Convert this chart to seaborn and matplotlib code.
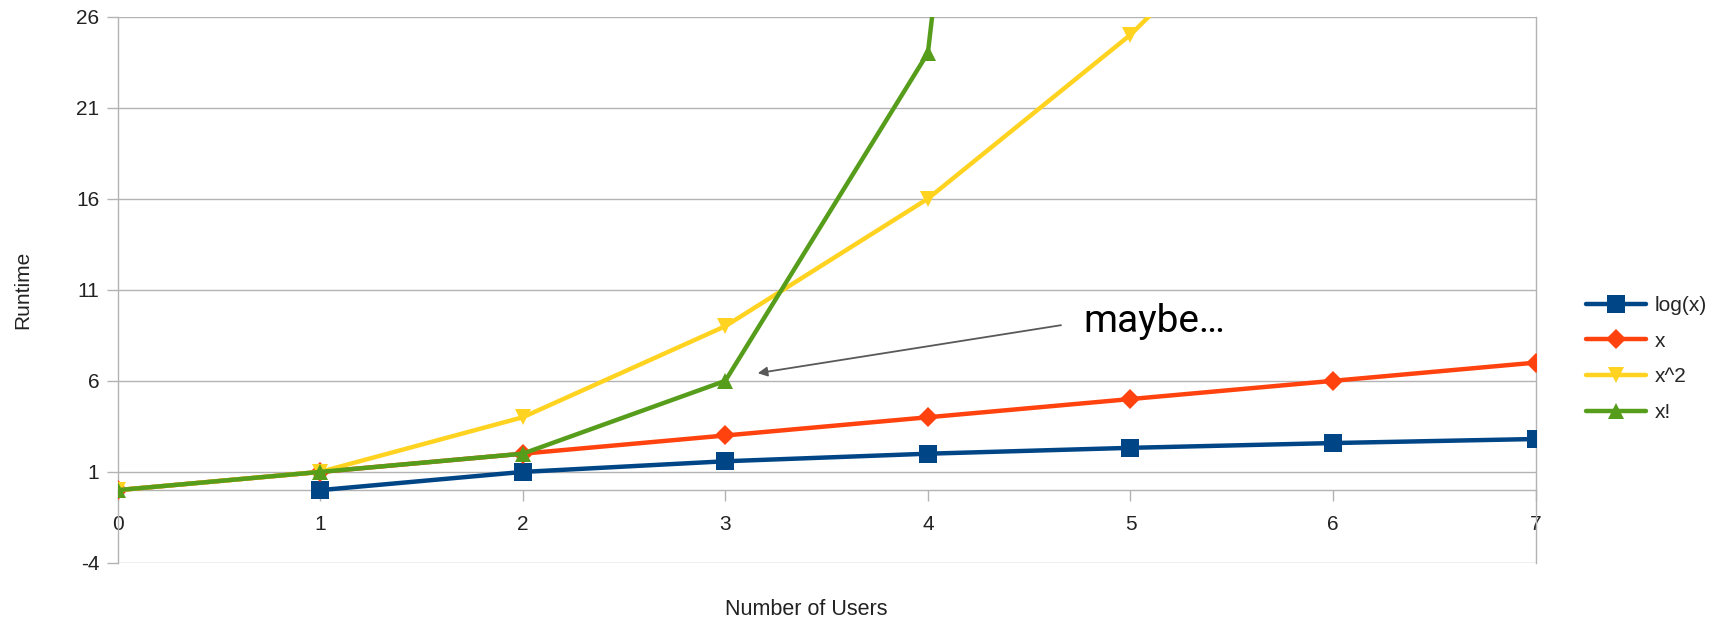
import numpy as np
import pandas as pd
import matplotlib
matplotlib.use("Agg")
import matplotlib.pyplot as plt
import seaborn as sns

# Runtime of several growth curves versus number of users
users = [0, 1, 2, 3, 4, 5, 6, 7]
log_x = [None, 0.0, 1.0, 1.585, 2.0, 2.322, 2.585, 2.807]
linear_x = [0, 1, 2, 3, 4, 5, 6, 7]
square_x = [0, 1, 4, 9, 16, 25, 36, 49]
factorial_x = [0, 1, 2, 6, 24, 120, 720, 5040]

series_names = ["log(x)", "x", "x^2", "x!"]
series_values = [log_x, linear_x, square_x, factorial_x]
colors = ["#004586", "#ff420e", "#ffd320", "#579d1c"]
marker_shapes = ["s", "D", "v", "^"]
marker_sizes = [13, 10, 12, 12]

y_ticks = [-4, 1, 6, 11, 16, 21, 26]

rows = []
for name, vals in zip(series_names, series_values):
    for u, v in zip(users, vals):
        if v is not None:
            rows.append({"Number of Users": u, "Runtime": v, "series": name})
df = pd.DataFrame(rows)

sns.set_theme(style="white")
plt.rcParams["font.family"] = ["Liberation Sans", "DejaVu Sans"]
plt.rcParams["axes.unicode_minus"] = False

fig = plt.figure(figsize=(17.21, 6.21), dpi=100)
ax = fig.add_axes([0.0683, 0.0934, 0.8240, 0.8800])

grid_color = "#b3b3b3"
for yt in y_ticks:
    ax.axhline(yt, color=grid_color, lw=1.0, zorder=0)

for name, col, mk, ms in zip(series_names, colors, marker_shapes, marker_sizes):
    sub = df[df["series"] == name]
    sns.lineplot(data=sub, x="Number of Users", y="Runtime", ax=ax,
                 color=col, marker=mk, markersize=ms, markeredgewidth=0,
                 linewidth=3.2, label=name, zorder=3, sort=False)

ax.set_xlim(0, 7)
ax.set_ylim(-4, 26)
ax.set_yticks(y_ticks)
ax.set_xticks(users)

# x axis crosses at zero, frame in light gray
ax.spines["bottom"].set_position(("data", 0))
for side in ["left", "right", "top", "bottom"]:
    ax.spines[side].set_color(grid_color)
    ax.spines[side].set_linewidth(1.0)
ax.spines["top"].set_visible(False)

text_color = "#222222"
ax.tick_params(axis="x", direction="out", length=8, width=1.0, color=grid_color,
               labelsize=15, labelcolor=text_color, pad=10, bottom=True)
ax.tick_params(axis="y", direction="out", length=8, width=1.0, color=grid_color,
               labelsize=15, labelcolor=text_color, pad=5, left=True)

ax.set_xlabel("Number of Users", fontsize=15.5, color=text_color)
ax.set_ylabel("Runtime", fontsize=15, color=text_color)
ax.xaxis.set_label_coords(0.486, -0.086)
ax.xaxis.label.set_va("center")
ax.yaxis.set_label_coords(-0.0666, 0.5)
ax.yaxis.label.set_va("center")

ax.annotate("maybe…", xy=(3.16, 6.42), xytext=(4.768, 9.25),
            ha="left", va="center", fontsize=28, family="Roboto", color="black",
            arrowprops=dict(arrowstyle="-|>", color="#595959", lw=1.3,
                            mutation_scale=14, shrinkA=14, shrinkB=0,
                            relpos=(0.0, 0.5)))

handles, labels = ax.get_legend_handles_labels()
ax.legend_.remove()
fig.legend(handles, labels, loc="center left", bbox_to_anchor=(0.9216, 0.422),
           frameon=False, fontsize=15, handlelength=2.9, handletextpad=0.4,
           labelspacing=0.8, borderpad=0, borderaxespad=0)

fig.savefig("out.png", dpi=100)
